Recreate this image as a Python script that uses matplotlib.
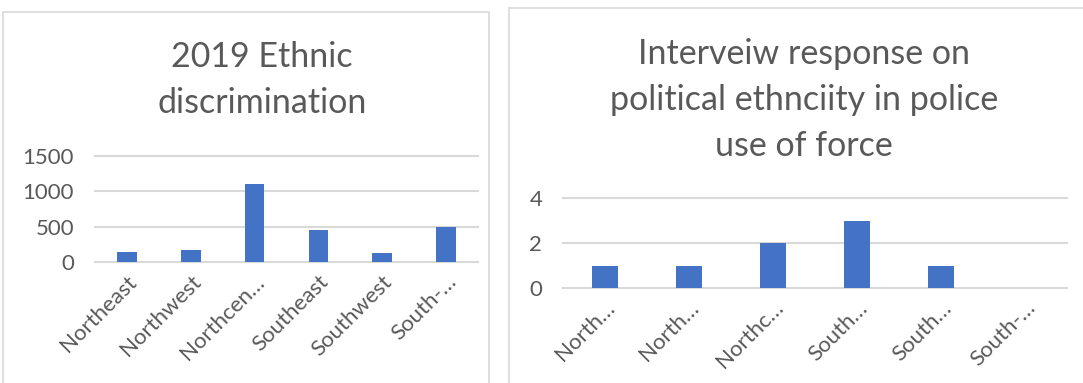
import matplotlib.pyplot as plt
from matplotlib.patches import Rectangle

# regional counts, 2019
regions = ["Northeast", "Northwest", "Northcentral", "Southeast", "Southwest", "South-south"]
left_labels = ["Northeast", "Northwest", "Northcen…", "Southeast", "Southwest", "South-…"]
discrimination = [140, 170, 1110, 455, 130, 500]

# interview responses per region
right_labels = ["North…", "North…", "Northc…", "South…", "South…", "South-…"]
responses = [1, 1, 2, 3, 1, 0]

BAR = "#4472C4"
GRID = "#d9d9d9"
TEXT = "#595959"

W, H = 1083, 383
plt.rcParams['font.family'] = ['Lato', 'DejaVu Sans']
fig = plt.figure(figsize=(W / 100, H / 100), dpi=100)


def px(x0, y0, x1, y1):
    # pixel box (top-left origin) -> figure fraction
    return [x0 / W, 1 - y1 / H, (x1 - x0) / W, (y1 - y0) / H]


# chart frames
fig.patches.append(Rectangle((3 / W, -0.1), 486 / W, 1.1 - 12 / H, transform=fig.transFigure,
                             fill=False, edgecolor=GRID, linewidth=1.2))
fig.patches.append(Rectangle((509 / W, -0.1), 600 / W, 1.1 - 8 / H, transform=fig.transFigure,
                             fill=False, edgecolor=GRID, linewidth=1.2))


def bar_chart(ax, labels, values, yticks, width):
    x = range(len(values))
    ax.bar(x, values, width=width, color=BAR, zorder=3)
    ax.set_xlim(-0.5, len(values) - 0.5)
    ax.set_ylim(0, yticks[-1])
    ax.set_yticks(yticks)
    ax.set_xticks(list(x))
    ax.set_xticklabels(labels, rotation=45, ha='right', rotation_mode='anchor')
    ax.tick_params(length=0, labelsize=16, colors=TEXT)
    ax.tick_params(axis='y', pad=15)
    ax.tick_params(axis='x', pad=7)
    for s in ax.spines.values():
        s.set_visible(False)
    for v in yticks:
        ax.axhline(v, color=GRID, linewidth=1.5, zorder=0, clip_on=False)
    ax.patch.set_alpha(0)


ax1 = fig.add_axes(px(95, 156, 478, 262))
bar_chart(ax1, left_labels, discrimination, [0, 500, 1000, 1500], 0.31)
fig.text(262 / W, 1 - 80 / H, "2019 Ethnic\ndiscrimination", ha='center', va='center',
         fontsize=24.5, color=TEXT, linespacing=1.55)

ax2 = fig.add_axes(px(563, 198, 1067, 288))
bar_chart(ax2, right_labels, responses, [0, 2, 4], 0.31)
fig.text(804 / W, 1 - 100 / H, "Interveiw response on\npolitical ethnciity in police\nuse of force",
         ha='center', va='center', fontsize=24.5, color=TEXT, linespacing=1.55)

fig.savefig("out.png", dpi=100)
